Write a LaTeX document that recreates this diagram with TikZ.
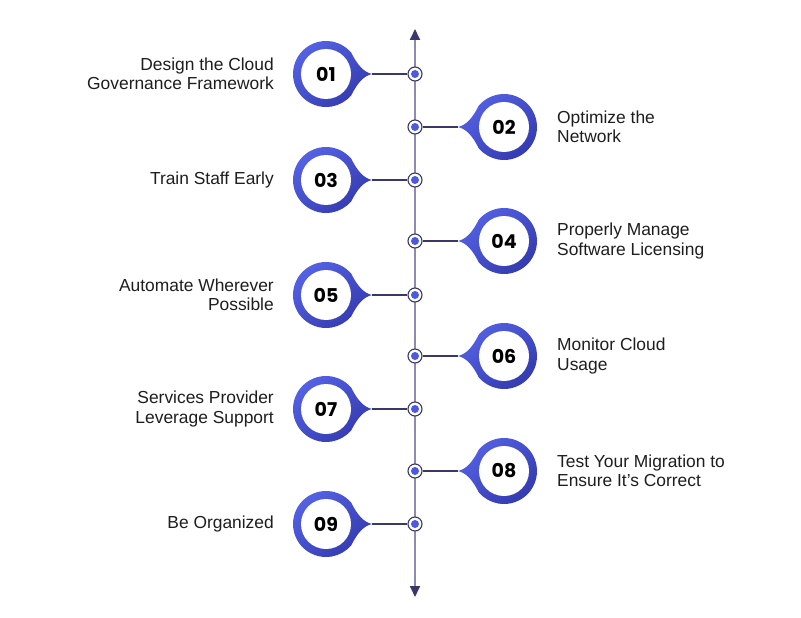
\documentclass[tikz,border=0pt]{standalone}
\usepackage{fontspec}
\setmainfont{Liberation Sans}
\newfontfamily\numfont{Poppins}
\usetikzlibrary{arrows.meta}
\definecolor{pinlight}{HTML}{5563E6}
\definecolor{pindark}{HTML}{343AAE}
\definecolor{navy}{HTML}{3A3868}
\definecolor{axisgray}{HTML}{8E8BB0}
\definecolor{dotblue}{HTML}{4C5AE0}
\definecolor{txt}{HTML}{1E1E1E}
\begin{document}
\begin{tikzpicture}[x=1pt,y=-1pt,
  ring/.style={circle,draw=navy,line width=1.1pt,fill=white,minimum size=14pt,inner sep=0pt},
  numnode/.style={circle,fill=white,minimum size=50pt,inner sep=0pt,text=black,font=\numfont\bfseries\fontsize{19}{19}\selectfont},
  lbl/.style={font=\fontsize{17.4}{19.5}\selectfont,inner sep=0pt,text=txt},
  link/.style={draw=navy,line width=1.1pt},
  pinshade/.style={top color=pinlight,bottom color=pindark,shading angle=40}]
\useasboundingbox[fill=white] (0,0) rectangle (801,618);
\coordinate (top) at (415,29);
\coordinate (bot) at (415,597);
\draw[axisgray,line width=1.8pt,{Triangle[length=11pt,width=10pt,color=navy]}-{Triangle[length=11pt,width=10pt,color=navy]}] (top) -- (bot);
\foreach \n/\yy/\s in {01/74/-1,02/127/1,03/180/-1,04/241/1,05/295/-1,06/356/1,07/409/-1,08/471/1,09/524/-1}{
  \pgfmathsetmacro\cx{415+89*\s}
  \pgfmathsetmacro\d{-1*\s}
  \pgfmathsetmacro\tx{\cx+46*\d}
  \pgfmathsetmacro\cax{\cx+37*\d}
  \pgfmathsetmacro\cbx{\cx+31*\d}
  \pgfmathsetmacro\ax{\cx+25.3*\d}
  \pgfmathsetmacro\sa{-90+50*\d}
  \pgfmathsetmacro\ea{\sa-280*\d}
  \pgfmathsetmacro\ya{\yy-21.2}
  \pgfmathsetmacro\yca{\yy-2}
  \pgfmathsetmacro\ycb{\yy-10}
  \pgfmathsetmacro\ycc{\yy+10}
  \pgfmathsetmacro\ycd{\yy+2}
  \shade[pinshade] (\tx,\yy) .. controls (\cax,\yca) and (\cbx,\ycb) .. (\ax,\ya)
     arc[start angle=\sa,end angle=\ea,radius=33] .. controls (\cbx,\ycc) and (\cax,\ycd) .. cycle;
  \node[numnode] (m\n) at (\cx,\yy) {\n};
  \coordinate (t\n) at (\tx,\yy);
  \node[ring] (r\n) at (415,\yy) {};
  \fill[dotblue] (r\n.center) circle[radius=4];
  \draw[link] (t\n) -- (r\n);
}
\foreach \yy/\t in {74/{Design the Cloud\\Governance Framework},180/{Train Staff Early},295/{Automate Wherever\\Possible},409/{Services Provider\\Leverage Support},524/{Be Organized}}{
  \node[lbl,align=right,anchor=east] at (274,\yy) {\t};
}
\foreach \yy/\t in {127/{Optimize the\\Network},241/{Properly Manage\\Software Licensing},356/{Monitor Cloud\\Usage},471/{Test Your Migration to\\Ensure It's Correct}}{
  \node[lbl,align=left,anchor=west] at (557,\yy) {\t};
}
\end{tikzpicture}
\end{document}
